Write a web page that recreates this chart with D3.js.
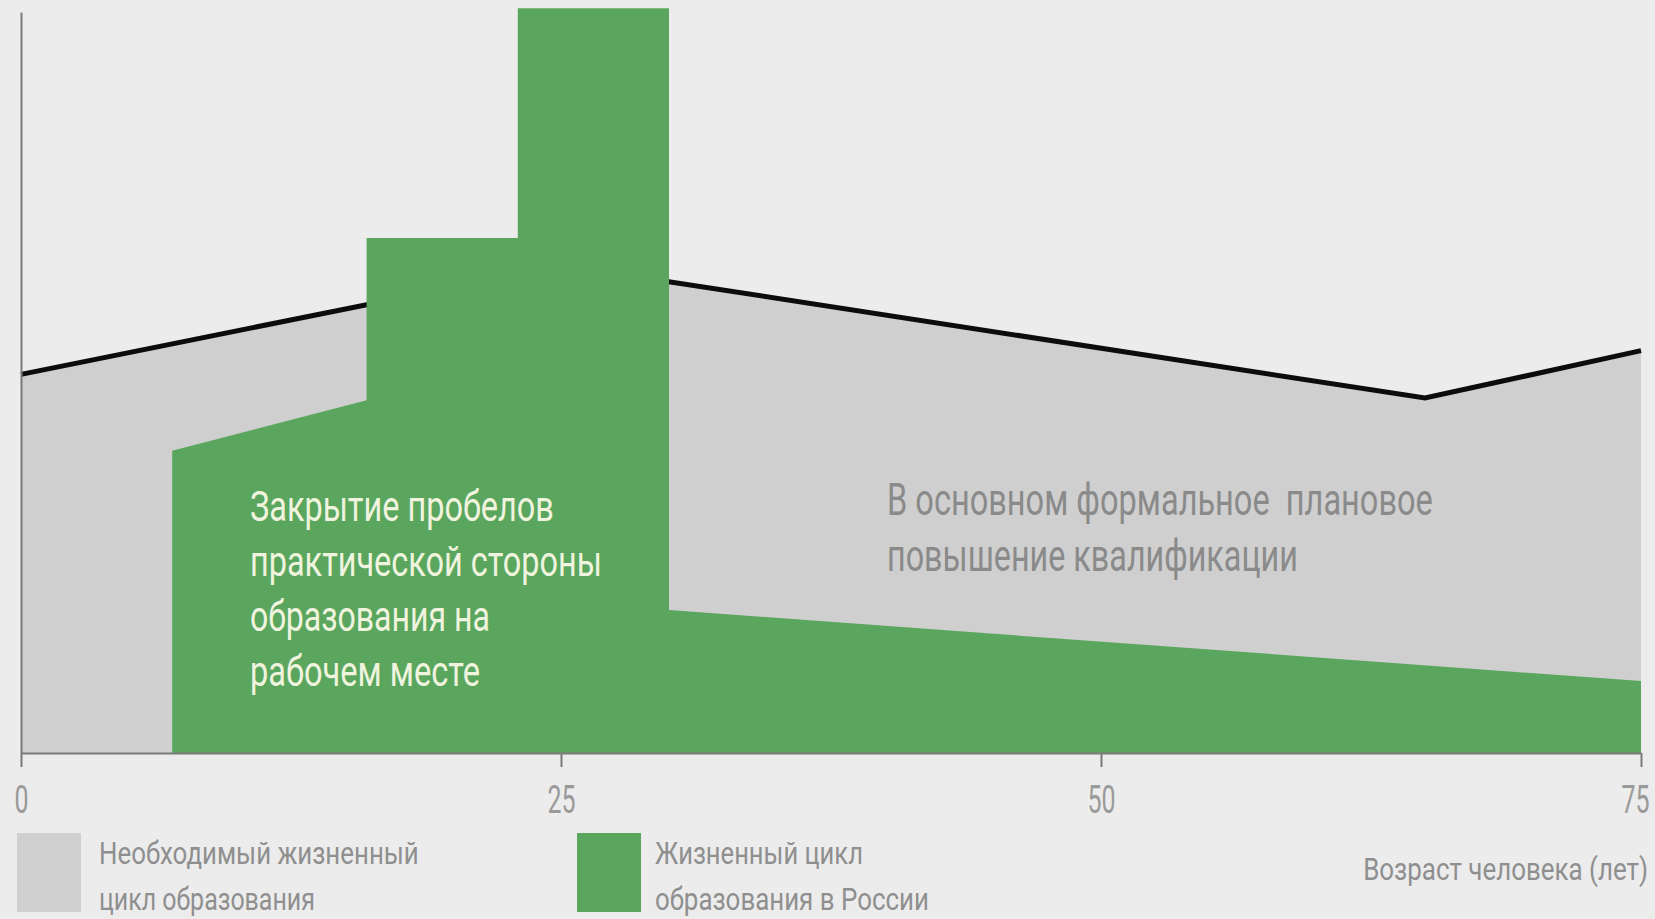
<!DOCTYPE html>
<html>
<head>
<meta charset="utf-8">
<script src="https://cdn.jsdelivr.net/npm/d3@7"></script>
<style>
  html, body { margin: 0; padding: 0; background: #ececec; overflow: hidden; }
  svg { display: block; font-family: Roboto, "Noto Sans", sans-serif; }
</style>
</head>
<body>
<svg id="chart" width="1655" height="919"></svg>
<script>
// Age axis
const ageTicks = [0, 25, 50, 75];
const ageDomain = [0, 75];
const levelDomain = [0, 100];

// Necessary lifelong learning cycle (upper boundary, drawn as black line)
const requiredAges   = [0, 16, 30, 65, 75];
const requiredLevels = [51.1, 60.5, 63.6, 47.9, 54.3];

// Learning cycle in Russia
const russiaAges   = [7, 16, 16, 23, 23, 30, 30, 75];
const russiaLevels = [40.8, 47.6, 69.5, 69.5, 100.5, 100.5, 19.3, 9.7];

// Texts
const practiceNote = ["Закрытие пробелов", "практической стороны", "образования на", "рабочем месте"];
const formalNote   = ["В основном формальное  плановое", "повышение квалификации"];
const legendRequired = ["Необходимый жизненный", "цикл образования"];
const legendRussia   = ["Жизненный цикл", "образования в России"];
const axisTitle = "Возраст человека (лет)";

const COLORS = { bg: "#ececec", grey: "#cfcfcf", green: "#5ba65e", line: "#0c0c0c",
                 axis: "#7a7a7a", label: "#8f8f8f", note: "#f0f4df" };

const svg = d3.select("#chart");
svg.append("rect").attr("width", 1655).attr("height", 919).attr("fill", COLORS.bg);

const x = d3.scaleLinear().domain(ageDomain).range([21, 1641]);
const y = d3.scaleLinear().domain(levelDomain).range([753, 12]);

const required = requiredAges.map((a, i) => ({ age: a, level: requiredLevels[i] }));
const russia = russiaAges.map((a, i) => ({ age: a, level: russiaLevels[i] }));

const area = d3.area().x(d => x(d.age)).y0(y(0)).y1(d => y(d.level));
const line = d3.line().x(d => x(d.age)).y(d => y(d.level));

// grey area, its outline, then the green area on top
svg.append("path").datum(required).attr("d", area).attr("fill", COLORS.grey);
svg.append("path").datum(required).attr("d", line)
  .attr("fill", "none").attr("stroke", COLORS.line).attr("stroke-width", 5);
svg.append("path").datum(russia).attr("d", area).attr("fill", COLORS.green);

// narrow the text horizontally: place it at (px, py) and scale its width to w
function squeeze(node, px, py, w) {
  const w0 = node.getComputedTextLength();
  d3.select(node).attr("x", 0).attr("y", 0)
    .attr("transform", `translate(${px},${py}) scale(${w / w0},1)`);
}

// axes
const xAxis = svg.append("g").attr("transform", `translate(0,${y(0)})`)
  .call(d3.axisBottom(x).tickValues(ageTicks).tickSize(14).tickSizeOuter(0).tickPadding(19));
xAxis.select(".domain").attr("stroke", COLORS.axis).attr("stroke-width", 2);
xAxis.selectAll(".tick line").attr("stroke", COLORS.axis).attr("stroke-width", 2);
xAxis.selectAll(".tick text")
  .attr("fill", "#9a9a9a").attr("font-size", 39).attr("font-family", "Roboto, sans-serif")
  .attr("dy", null)
  .attr("text-anchor", d => d === ageDomain[1] ? "end" : "middle")
  .each(function (d) {
    const w0 = this.getComputedTextLength();
    squeeze(this, d === ageDomain[1] ? 8 : 0, 14 + 19 + 27, w0 * 0.64);
  });

const yAxis = svg.append("g").attr("transform", `translate(${x(0)},0)`)
  .call(d3.axisLeft(y).tickValues([]).tickSizeOuter(0));
yAxis.select(".domain").attr("stroke", COLORS.axis).attr("stroke-width", 2);

function block(lines, opts) {
  const g = svg.append("g");
  lines.forEach((t, i) => {
    const tx = g.append("text")
      .attr("font-size", opts.size).attr("fill", opts.fill)
      .attr("text-anchor", opts.anchor || "start")
      .style("white-space", "pre")
      .text(t);
    squeeze(tx.node(), opts.x, opts.y + i * opts.dy, opts.widths[i]);
  });
  return g;
}

// annotations inside the areas
block(practiceNote, { x: 250, y: 521, dy: 55, size: 42, fill: COLORS.note, widths: [304, 352, 240, 230] });
block(formalNote, { x: 887, y: 515, dy: 56, size: 44, fill: "#8a8a8a", widths: [546, 411] });

// legend
svg.append("rect").attr("x", 17).attr("y", 833).attr("width", 64).attr("height", 79).attr("fill", COLORS.grey);
block(legendRequired, { x: 99, y: 864, dy: 46, size: 32, fill: COLORS.label, widths: [320, 216] });
svg.append("rect").attr("x", 577).attr("y", 833).attr("width", 64).attr("height", 79).attr("fill", COLORS.green);
block(legendRussia, { x: 655, y: 864, dy: 46, size: 32, fill: COLORS.label, widths: [208, 274] });

block([axisTitle], { x: 1648, y: 880, dy: 0, size: 32, fill: COLORS.label, anchor: "end", widths: [285] });
</script>
</body>
</html>
